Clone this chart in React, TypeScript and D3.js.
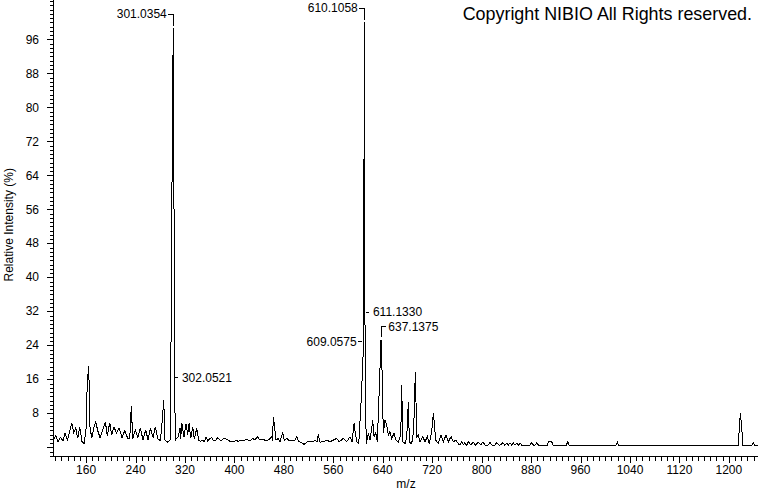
import React from "react";
import * as d3 from "d3";

// Profile spectrum: [m/z, relative intensity %]
const profile: [number, number][] = [
  [106.4, 1.7], [110.8, 2.7], [114.5, 1.3], [118.3, 2.3], [122.6, 1.6], [125.9, 3.3],
  [129.6, 1.7], [133.5, 3.7], [136.7, 5.8], [139.9, 3.4], [143.2, 4.5], [146.4, 2.1],
  [149.6, 4.7], [153.4, 1.3], [156.6, 0.9], [159.8, 4.1], [161.9, 15.4], [164.2, 19.1],
  [166.3, 4.8], [169.1, 2.1], [172.3, 4.5], [175.5, 6.0], [178.8, 3.9], [182.5, 2.3],
  [186.9, 4.1], [191.1, 6.0], [194.3, 2.7], [198.2, 5.8], [201.4, 2.9], [205.1, 4.8],
  [208.9, 3.4], [213.2, 4.5], [218.1, 2.3], [222.5, 3.9], [227.3, 2.1], [230.6, 2.1],
  [233.1, 9.6], [235.4, 2.0], [239.6, 4.1], [243.5, 2.3], [247.7, 4.5], [252.1, 1.7],
  [256.4, 4.1], [260.2, 1.7], [263.9, 4.5], [268.3, 2.3], [272.0, 4.8], [275.9, 2.0],
  [280.1, 1.6], [283.3, 6.4], [285.6, 11.1], [287.7, 1.6], [292.0, 1.2], [295.8, 1.7],
  [297.9, 32.7], [299.5, 76.6], [301.0354, 98.6], [302.2, 56.0], [303.2, 16.4], [304.3, 1.7],
  [309.2, 2.5], [311.9, 4.5], [313.0, 2.0], [314.7, 5.8], [318.4, 2.5], [321.7, 5.5],
  [324.4, 2.9], [326.5, 5.6], [329.3, 2.1], [332.5, 4.7], [335.1, 1.9], [339.0, 4.5],
  [342.2, 1.7], [345.5, 1.4], [348.6, 1.7], [351.5, 1.3], [354.0, 2.5], [356.8, 1.5],
  [359.4, 1.9], [363.2, 2.3], [365.8, 1.5], [369.1, 1.5], [373.0, 2.3], [377.8, 1.5],
  [383.1, 2.1], [388.5, 1.8], [394.0, 1.3], [399.3, 1.3], [403.0, 1.6], [406.3, 1.4],
  [410.5, 1.7], [414.4, 1.5], [419.9, 1.9], [425.2, 1.5], [429.6, 2.1], [433.3, 1.7],
  [437.0, 2.5], [441.4, 1.7], [446.7, 1.9], [451.1, 1.5], [456.4, 1.9], [460.3, 2.5],
  [461.6, 1.6], [462.9, 7.2], [465.2, 4.5], [467.3, 1.7], [471.0, 2.1], [473.8, 1.3],
  [478.1, 3.5], [480.7, 1.7], [484.6, 2.1], [488.8, 1.5], [492.7, 1.7], [498.0, 1.7],
  [500.8, 2.5], [503.4, 1.5], [507.2, 1.2], [512.6, 0.7], [517.0, 1.2], [522.3, 1.5],
  [526.7, 1.3], [530.4, 1.7], [533.5, 1.2], [535.5, 3.0], [538.5, 1.2], [543.8, 1.3],
  [549.3, 1.7], [554.7, 1.3], [560.0, 1.7], [565.5, 2.1], [569.7, 1.3], [576.2, 2.1],
  [581.7, 1.3], [587.0, 2.5], [590.3, 1.3], [593.5, 5.6], [595.6, 3.3], [597.9, 1.3],
  [601.1, 0.8], [605.5, 12.3], [609.0575, 24.8], [610.1058, 100], [610.6, 80.5],
  [611.133, 31.8], [612.2, 8.0], [613.5, 0.9], [616.6, 3.3], [619.4, 1.7], [623.8, 6.3],
  [625.9, 2.5], [628.6, 3.4], [631.2, 1.3], [634.4, 13.9], [637.1375, 25.2], [638.3, 22.1],
  [639.3, 13.9], [640.9, 3.3], [643.6, 6.4], [646.4, 5.1], [648.9, 2.9], [651.7, 3.7],
  [654.5, 2.1], [658.2, 3.3], [661.5, 1.7], [665.2, 1.3], [669.1, 2.9], [670.7, 14.7],
  [672.3, 1.3], [676.0, 0.9], [678.8, 2.5], [681.4, 10.7], [683.0, 1.3], [685.7, 0.9],
  [688.5, 1.7], [690.6, 7.0], [692.7, 17.8], [695.0, 2.5], [697.6, 2.9], [700.3, 1.3],
  [704.7, 2.5], [708.4, 1.3], [712.1, 2.5], [715.3, 0.9], [719.2, 3.7], [721.8, 8.0],
  [723.4, 5.6], [725.7, 1.7], [729.9, 0.9], [734.3, 2.9], [738.0, 1.3], [742.4, 2.9],
  [746.1, 1.3], [750.5, 2.5], [754.2, 1.3], [758.5, 1.7], [762.3, 0.8], [765.0, 0.5],
  [767.8, 1.3], [770.4, 0.6], [773.0, 1.1], [775.8, 0.4], [778.5, 1.3], [782.3, 0.6],
  [786.5, 1.2], [790.0, 0.5], [794.6, 1.2], [798.5, 0.6], [801.7, 1.2], [806.0, 0.5],
  [810.0, 0.5], [813.6, 1.1], [817.0, 0.5], [821.0, 0.5], [824.4, 1.1], [828.0, 0.5],
  [831.0, 0.6], [834.1, 1.1], [837.5, 0.5], [840.6, 1.0], [843.2, 0.5], [845.9, 1.0],
  [848.6, 0.5], [851.3, 1.0], [854.0, 0.5], [856.8, 1.0], [859.5, 0.5], [862.1, 1.0],
  [865.0, 0.5], [878.0, 0.5], [881.0, 1.1], [884.0, 0.5], [886.5, 0.5], [889.1, 1.1],
  [892.0, 0.5], [906.0, 0.5], [907.9, 1.3], [913.4, 1.3], [915.5, 0.5], [937.0, 0.5],
  [939.3, 1.3], [941.5, 0.5], [1017.5, 0.5], [1019.5, 1.2], [1021.5, 0.5], [1215.3, 0.5],
  [1217.0, 4.8], [1218.6, 8.0], [1220.8, 4.8], [1222.4, 0.5], [1237.5, 0.5], [1239.6, 1.0],
  [1241.5, 0.5], [1247.8, 0.5],
];

// Annotated peaks
const peakLabels = ["301.0354", "610.1058", "302.0521", "609.0575", "611.1330", "637.1375"];
const peakMz = [301.0354, 610.1058, 302.0521, 609.0575, 611.133, 637.1375];
const peakIntensity = [98.6, 100, 16.4, 24.8, 31.8, 25.2];
const peakPlacement = ["topLeft", "topLeft", "right", "left", "right", "topRight"];

// Axes
const xTickLabels = [160, 240, 320, 400, 480, 560, 640, 720, 800, 880, 960, 1040, 1120, 1200];
const yTickLabels = [8, 16, 24, 32, 40, 48, 56, 64, 72, 80, 88, 96];
const xDomain = [106.4, 1247.8];
const yDomain = [-2.05, 105.25];

const FONT = "Arial, 'Liberation Sans', sans-serif";

export default function App() {
  const W = 760;
  const H = 492;
  const x = d3.scaleLinear().domain(xDomain).range([53, 758.4]);
  const y = d3.scaleLinear().domain(yDomain).range([456, 0]);
  const line = d3
    .line<[number, number]>()
    .x((d) => x(d[0]))
    .y((d) => y(d[1]));

  const xMinor = d3.range(110, 1241, 10);
  const yMinor = d3.range(-2, 106, 1);
  const yMajor = [0, ...yTickLabels];

  const labels = peakLabels.map((txt, i) => {
    const px = x(peakMz[i]);
    const py = y(peakIntensity[i]);
    const p = peakPlacement[i];
    if (p === "topLeft") {
      const ty = py - 14.5;
      return (
        <g key={txt}>
          <path d={`M${px - 5.5},${ty + 0.8}H${px}V${py - 2.5}`} stroke="#000" fill="none" shapeRendering="crispEdges" />
          <text x={px - 6.5} y={ty} dy="0.35em" textAnchor="end">{txt}</text>
        </g>
      );
    }
    if (p === "topRight") {
      const ty = py - 13.5;
      return (
        <g key={txt}>
          <path d={`M${px},${py - 3.5}V${ty}H${px + 5}`} stroke="#000" fill="none" shapeRendering="crispEdges" />
          <text x={px + 7.3} y={ty} dy="0.35em" textAnchor="start">{txt}</text>
        </g>
      );
    }
    if (p === "right") {
      return (
        <g key={txt}>
          <path d={`M${px + 1},${py}H${px + 4}`} stroke="#000" fill="none" shapeRendering="crispEdges" />
          <text x={px + 8} y={py} dy="0.35em" textAnchor="start">{txt}</text>
        </g>
      );
    }
    return (
      <g key={txt}>
        <path d={`M${px - 6},${py}H${px - 2}`} stroke="#000" fill="none" shapeRendering="crispEdges" />
        <text x={px - 7} y={py} dy="0.35em" textAnchor="end">{txt}</text>
      </g>
    );
  });

  return (
    <svg
      width={W}
      height={H}
      style={{ position: "absolute", left: 0, top: 0, background: "#fff" }}
      fontFamily={FONT}
      fontSize={12}
    >
      <rect x={0} y={0} width={W} height={H} fill="#fff" />
      {/* spectrum */}
      <path d={line(profile) || ""} fill="none" stroke="#000" strokeWidth={1} shapeRendering="crispEdges" />

      {/* y axis */}
      <line x1={53.5} x2={53.5} y1={0} y2={456} stroke="#000" shapeRendering="crispEdges" />
      {yMinor.map((v) => (
        <line key={`ym${v}`} x1={50} x2={53} y1={Math.round(y(v)) + 0.5} y2={Math.round(y(v)) + 0.5} stroke="#000" shapeRendering="crispEdges" />
      ))}
      {yMajor.map((v) => (
        <line key={`yM${v}`} x1={47} x2={53} y1={Math.round(y(v)) + 0.5} y2={Math.round(y(v)) + 0.5} stroke="#000" shapeRendering="crispEdges" />
      ))}
      {yTickLabels.map((v) => (
        <text key={`yl${v}`} x={39} y={y(v)} dy="0.35em" textAnchor="end">{v}</text>
      ))}
      <text transform={`translate(13,224.8) rotate(-90)`} textAnchor="middle">Relative Intensity (%)</text>

      {/* x axis */}
      <line x1={53} x2={758.4} y1={456.5} y2={456.5} stroke="#000" shapeRendering="crispEdges" />
      {xMinor.map((v) => (
        <line key={`xm${v}`} x1={Math.round(x(v)) + 0.5} x2={Math.round(x(v)) + 0.5} y1={457} y2={461} stroke="#000" shapeRendering="crispEdges" />
      ))}
      {xTickLabels.map((v) => (
        <line key={`xM${v}`} x1={Math.round(x(v)) + 0.5} x2={Math.round(x(v)) + 0.5} y1={457} y2={463} stroke="#000" shapeRendering="crispEdges" />
      ))}
      {xTickLabels.map((v) => (
        <text key={`xl${v}`} x={x(v)} y={474.3} textAnchor="middle">{v}</text>
      ))}
      <text x={406} y={488.3} textAnchor="middle">m/z</text>

      {labels}

      <text x={752} y={19.5} textAnchor="end" fontSize={17.9}>Copyright NIBIO All Rights reserved.</text>
    </svg>
  );
}
